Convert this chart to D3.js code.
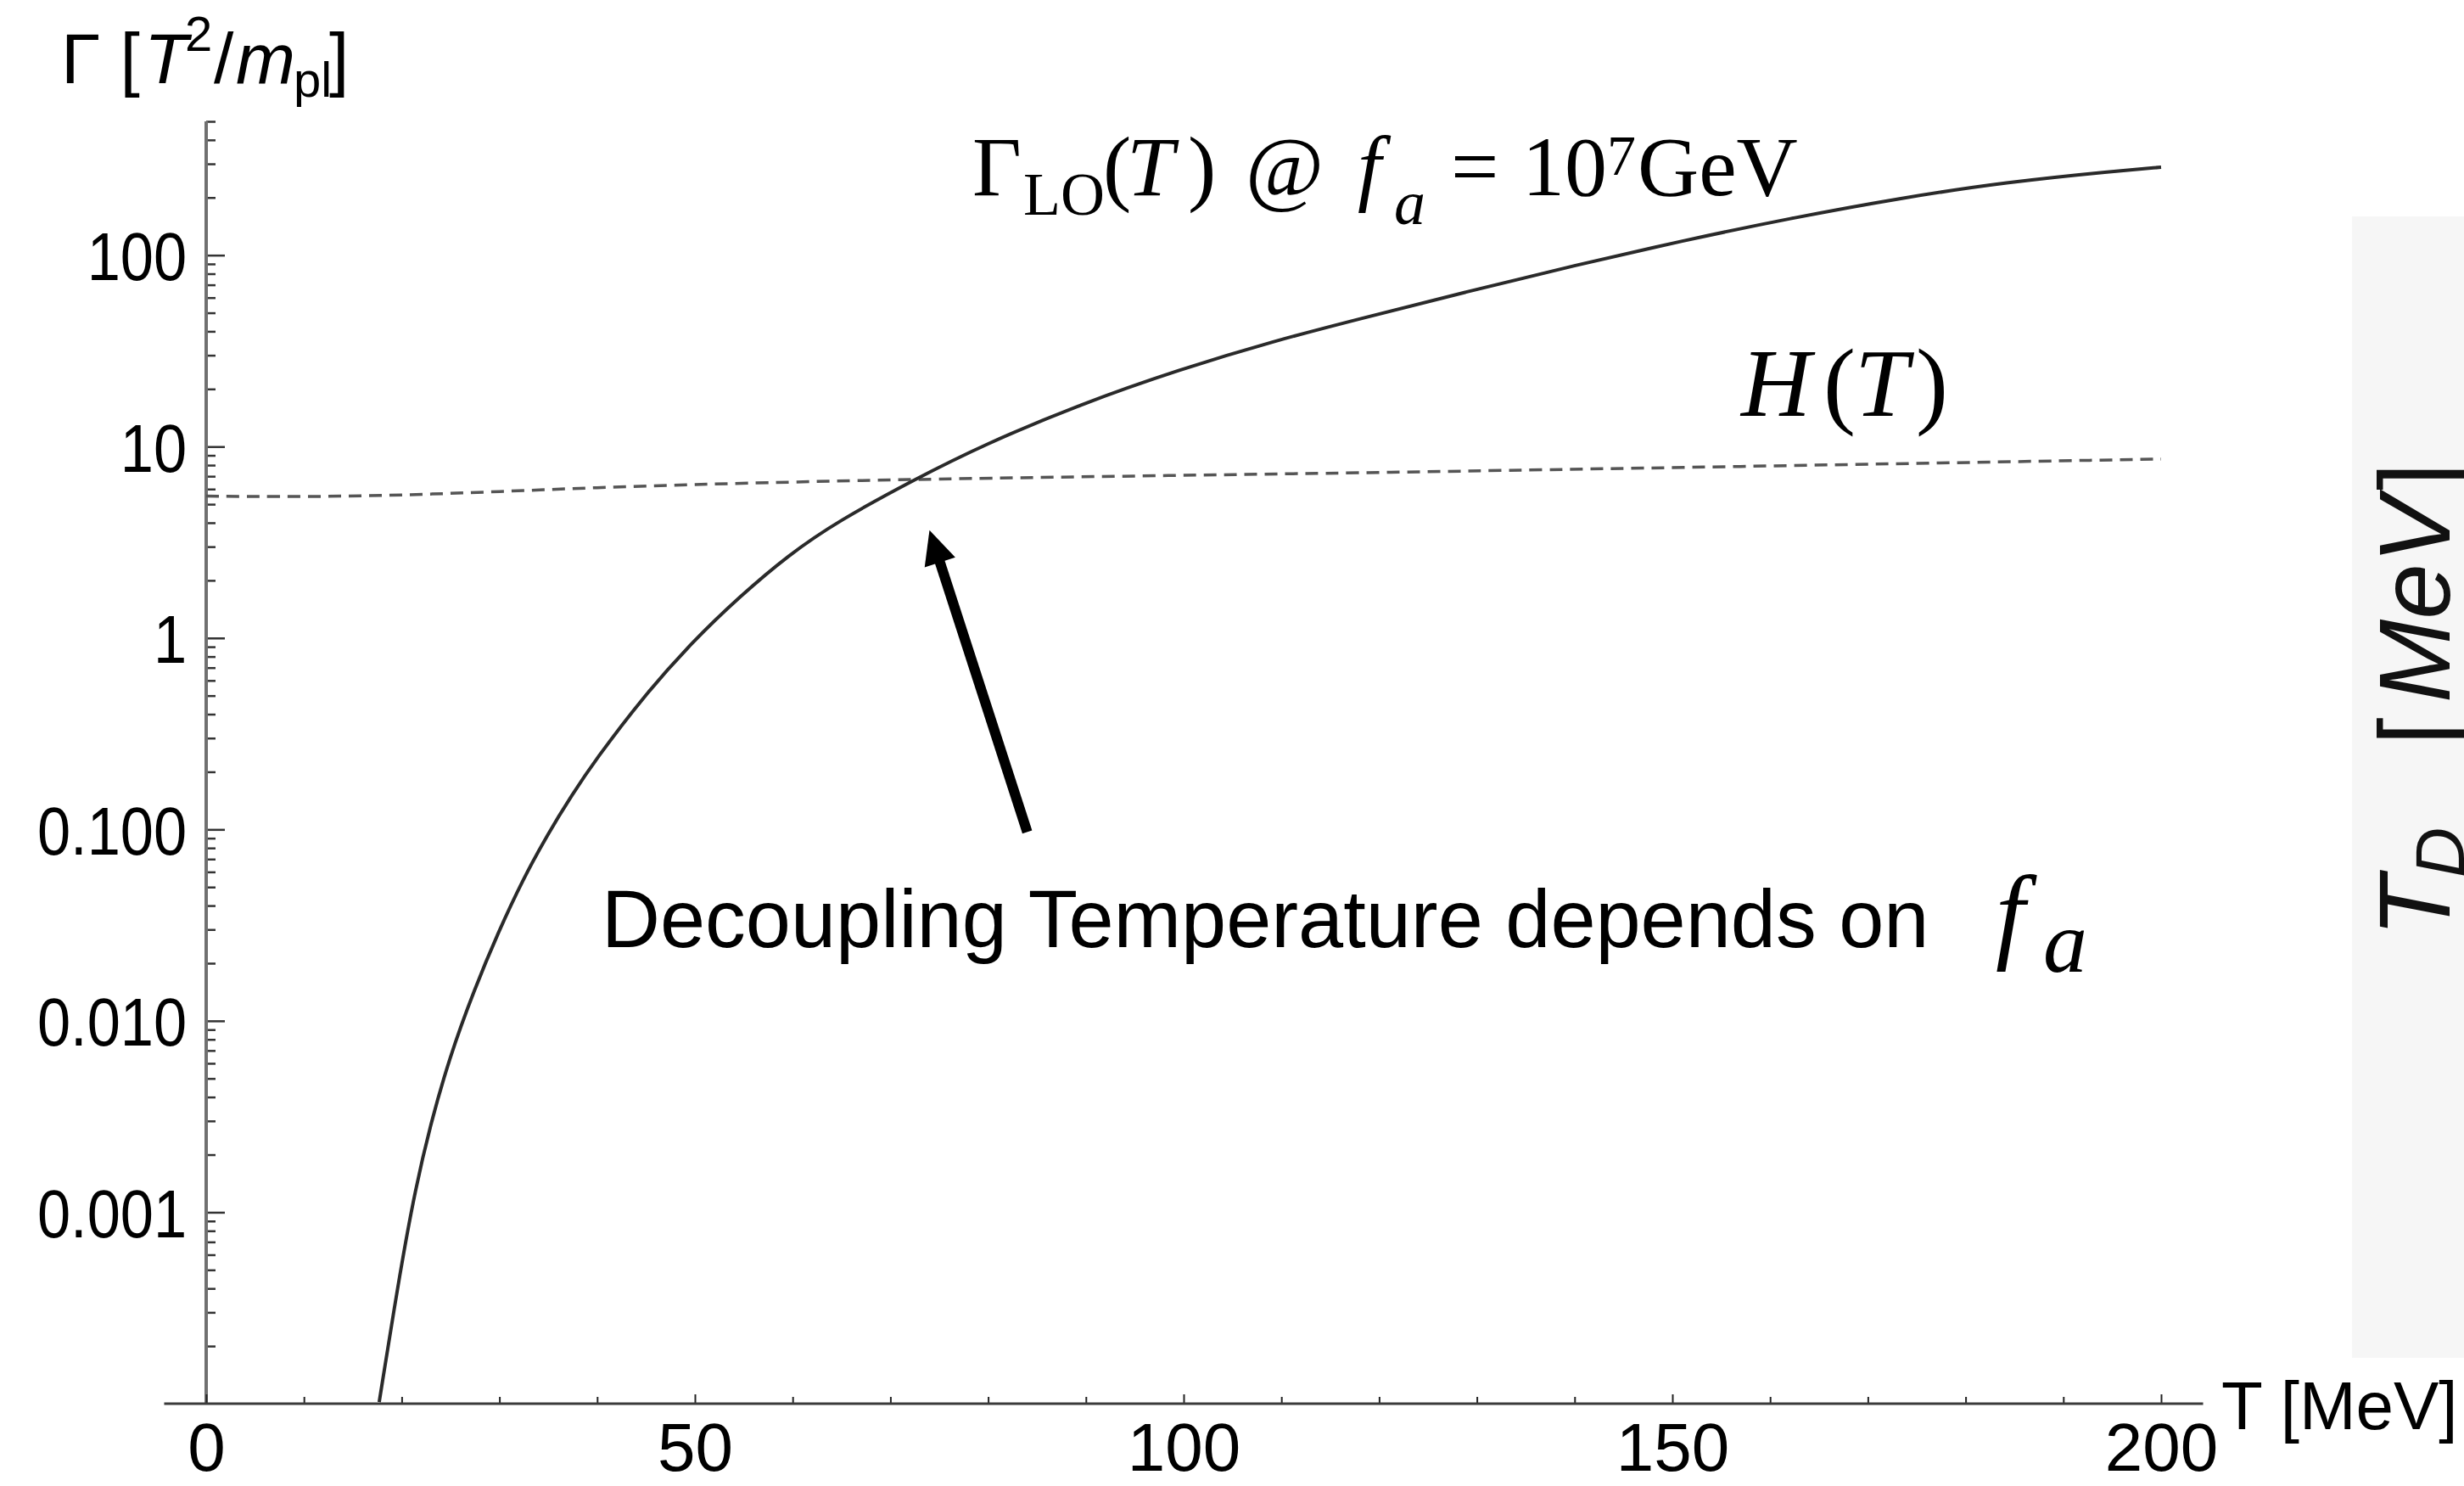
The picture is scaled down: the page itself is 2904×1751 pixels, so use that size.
<!DOCTYPE html>
<html>
<head>
    <meta charset="utf-8">
    <title>Decoupling temperature</title>
    <script src="https://cdn.jsdelivr.net/npm/d3@7"></script>
    <style>
        body { margin: 0; background: #fff; }
        .sans { font-family: "Liberation Sans", Arial, sans-serif; }
        .serif { font-family: "Liberation Serif", "Times New Roman", serif; }
    </style>
</head>

<body>

<script type="text/javascript">
    // values
    var loTemp  = [17.7, 19.9, 21.4, 22.9, 24.9, 27.4, 29.9, 32.4, 34.9, 37.4, 39.8, 44.7, 49.7,
                   54.6, 59.6, 64.6, 72.5, 79.5, 89.5, 99.5, 109.4, 117.8, 128.9, 140.0, 151.0,
                   162.1, 173.1, 184.2, 195.3, 200];
    var loRate  = [1.02e-4, 5.13e-4, 1.32e-3, 2.82e-3, 6.46e-3, 0.01445, 0.0292, 0.0547, 0.0938,
                   0.151, 0.230, 0.492, 0.951, 1.65, 2.72, 4.07, 6.75, 10.2, 16.7, 25.2, 35.8,
                   46.2, 64.3, 88.3, 118.9, 156, 198, 241, 275, 288];
    var hubTemp = [0, 10, 20, 30, 40, 50, 60, 72.6, 100, 117.8, 156, 200];
    var hubRate = [5.51, 5.46, 5.57, 5.82, 6.11, 6.34, 6.53, 6.75, 7.08, 7.29, 7.85, 8.61];

    var xTicks = [0, 50, 100, 150, 200],
        xTickLabels = ["0", "50", "100", "150", "200"],
        yTicks = [0.001, 0.01, 0.1, 1, 10, 100],
        yTickLabels = ["0.001", "0.010", "0.100", "1", "10", "100"];

    // arrow: tail -> tip, in (T, rate)
    var arrowTail = [84.0, 0.097],
        arrowTip = [74.0, 3.66];

    var width = 2904, height = 1751;

    var svg = d3.select("body").append("svg")
        .attr("width", width)
        .attr("height", height);

    var xScale = d3.scaleLinear()
            .domain([0, 200])
            .range([243, 2547]),
        yScale = d3.scaleLog()
            .domain([1e-4, 500])
            .range([1654, 143]);

    // faint panel at the right edge
    svg.append("rect")
        .attr("x", 2772).attr("y", 255)
        .attr("width", 132).attr("height", 1345)
        .attr("fill", "#f6f6f6");

    svg.append("clipPath").attr("id", "plot")
        .append("rect")
        .attr("x", xScale(-4.3)).attr("y", yScale(500))
        .attr("width", xScale(204.3) - xScale(-4.3))
        .attr("height", yScale(1e-4) - yScale(500));

    function renderYAxis() {
        var minor = [];
        [1e-4, 1e-3, 1e-2, 1e-1, 1, 10, 100].forEach(function (dec) {
            for (var k = 2; k <= 9; k++) {
                if (k * dec <= 500) minor.push(k * dec);
            }
        });

        svg.append("g")
            .attr("class", "y-minor")
            .attr("transform", "translate(" + xScale(0) + ",0)")
            .call(d3.axisLeft(yScale).tickValues(minor).tickFormat("")
                .tickSizeInner(-11).tickSizeOuter(0));

        svg.append("g")
            .attr("class", "y-major")
            .attr("transform", "translate(" + xScale(0) + ",0)")
            .call(d3.axisLeft(yScale).tickValues(yTicks)
                .tickFormat(function (d, i) { return yTickLabels[i]; })
                .tickSizeInner(-22).tickSizeOuter(0).tickPadding(26));

        svg.selectAll(".y-minor .domain, .y-major .domain").remove();
        svg.selectAll(".y-minor line, .y-major line")
            .attr("stroke", "#333").attr("stroke-width", 2.5);
        svg.selectAll(".y-major text")
            .attr("font-family", "Liberation Sans, Arial, sans-serif")
            .attr("font-size", 80)
            .attr("fill", "#000")
            .attr("dy", "0.36em")
            .attr("transform", "scale(0.88,1)");

        svg.append("line")
            .attr("x1", xScale(0)).attr("x2", xScale(0))
            .attr("y1", yScale(500)).attr("y2", yScale(1e-4))
            .attr("stroke", "#707070").attr("stroke-width", 4);
    }

    function renderXAxis() {
        var minor = [];
        for (var t = 10; t < 200; t += 10) {
            if (t % 50 !== 0) minor.push(t);
        }

        svg.append("g")
            .attr("class", "x-minor")
            .attr("transform", "translate(0," + yScale(1e-4) + ")")
            .call(d3.axisBottom(xScale).tickValues(minor).tickFormat("")
                .tickSizeInner(-8).tickSizeOuter(0));

        svg.append("g")
            .attr("class", "x-major")
            .attr("transform", "translate(0," + yScale(1e-4) + ")")
            .call(d3.axisBottom(xScale).tickValues(xTicks)
                .tickFormat(function (d, i) { return xTickLabels[i]; })
                .tickSizeInner(-11).tickSizeOuter(0).tickPadding(22));

        svg.selectAll(".x-minor .domain, .x-major .domain").remove();
        svg.selectAll(".x-minor line, .x-major line")
            .attr("stroke", "#222").attr("stroke-width", 2);
        svg.selectAll(".x-major text")
            .attr("font-family", "Liberation Sans, Arial, sans-serif")
            .attr("font-size", 80)
            .attr("fill", "#000");

        svg.append("line")
            .attr("x1", xScale(-4.3)).attr("x2", xScale(204.3))
            .attr("y1", yScale(1e-4)).attr("y2", yScale(1e-4))
            .attr("stroke", "#3a3a3a").attr("stroke-width", 3);
    }

    renderYAxis();
    renderXAxis();

    var line = d3.line()
        .x(function (d) { return xScale(d[0]); })
        .y(function (d) { return yScale(d[1]); })
        .curve(d3.curveBasis);

    svg.append("path")
        .attr("clip-path", "url(#plot)")
        .attr("d", line(d3.zip(hubTemp, hubRate)))
        .attr("fill", "none")
        .attr("stroke", "#555")
        .attr("stroke-width", 3.5)
        .attr("stroke-dasharray", "15,9");

    svg.append("path")
        .attr("clip-path", "url(#plot)")
        .attr("d", line(d3.zip(loTemp, loRate)))
        .attr("fill", "none")
        .attr("stroke", "#2a2a2a")
        .attr("stroke-width", 4);

    // arrow
    var ax0 = xScale(arrowTail[0]), ay0 = yScale(arrowTail[1]),
        ax1 = xScale(arrowTip[0]), ay1 = yScale(arrowTip[1]);
    var len = Math.sqrt((ax1 - ax0) * (ax1 - ax0) + (ay1 - ay0) * (ay1 - ay0)),
        ux = (ax1 - ax0) / len, uy = (ay1 - ay0) / len,
        headLen = 40, headHalf = 19;
    var bx = ax1 - ux * headLen, by = ay1 - uy * headLen;

    svg.append("line")
        .attr("x1", ax0).attr("y1", ay0)
        .attr("x2", bx + ux * 4).attr("y2", by + uy * 4)
        .attr("stroke", "#000").attr("stroke-width", 12);

    svg.append("path")
        .attr("d", "M" + ax1 + "," + ay1 +
            "L" + (bx - uy * headHalf) + "," + (by + ux * headHalf) +
            "L" + (bx + uy * headHalf) + "," + (by - ux * headHalf) + "Z")
        .attr("fill", "#000");

    // axis labels
    var yLab = svg.append("text").attr("class", "sans").attr("font-size", 84).attr("fill", "#000");
    yLab.append("tspan").attr("x", 72).attr("y", 98).text("Γ [");
    yLab.append("tspan").attr("x", 170).attr("y", 98).attr("font-style", "italic").text("T");
    yLab.append("tspan").attr("x", 218).attr("y", 60).attr("font-size", 58).text("2");
    yLab.append("tspan").attr("x", 252).attr("y", 98).text("/");
    yLab.append("tspan").attr("x", 278).attr("y", 98).attr("font-style", "italic").text("m");
    yLab.append("tspan").attr("x", 346).attr("y", 114).attr("font-size", 58).text("pl");
    yLab.append("tspan").attr("x", 388).attr("y", 98).text("]");

    svg.append("text").attr("class", "sans")
        .attr("x", 2618).attr("y", 1684)
        .attr("font-size", 80).attr("fill", "#000")
        .text("T [MeV]");

    // curve labels
    var g1 = svg.append("g").attr("class", "serif").attr("fill", "#000").attr("font-size", 100);
    g1.append("text").attr("x", 1146).attr("y", 230).text("Γ");
    g1.append("text").attr("x", 1206).attr("y", 253).attr("font-size", 72).text("LO");
    g1.append("text").attr("x", 1300).attr("y", 230).text("(");
    g1.append("text").attr("x", 1328).attr("y", 230).attr("font-style", "italic").text("T");
    g1.append("text").attr("x", 1400).attr("y", 230).text(")");
    g1.append("text").attr("x", 1468).attr("y", 230).text("@");
    g1.append("text").attr("x", 1600).attr("y", 230).attr("font-style", "italic").text("f");
    g1.append("text").attr("x", 1643).attr("y", 264).attr("font-size", 74).attr("font-style", "italic").text("a");
    g1.append("text").attr("x", 1710).attr("y", 230).text("=");
    g1.append("text").attr("x", 1794).attr("y", 230).text("10");
    g1.append("text").attr("x", 1894).attr("y", 206).attr("font-size", 68).text("7");
    g1.append("text").attr("x", 1930).attr("y", 230).text("GeV");

    var g2 = svg.append("g").attr("class", "serif").attr("fill", "#000").attr("font-size", 114);
    g2.append("text").attr("x", 2052).attr("y", 490).attr("font-style", "italic").text("H");
    g2.append("text").attr("x", 2149).attr("y", 490).text("(");
    g2.append("text").attr("x", 2186).attr("y", 490).attr("font-style", "italic").text("T");
    g2.append("text").attr("x", 2258).attr("y", 490).text(")");

    svg.append("text").attr("class", "sans")
        .attr("x", 709).attr("y", 1116)
        .attr("font-size", 95.5).attr("fill", "#000")
        .text("Decoupling Temperature depends on");
    svg.append("text").attr("class", "serif")
        .attr("x", 2352).attr("y", 1118)
        .attr("font-size", 124).attr("font-style", "italic").attr("fill", "#000")
        .text("f");
    svg.append("text").attr("class", "serif")
        .attr("x", 2408).attr("y", 1145)
        .attr("font-size", 104).attr("font-style", "italic").attr("fill", "#000")
        .text("a");

    // rotated, cut-off label on the right panel
    var g3 = svg.append("g").attr("class", "sans")
        .attr("transform", "translate(2887,0) rotate(-90)")
        .attr("fill", "#111").attr("font-size", 118);
    g3.append("text").attr("x", -1104).attr("y", 0).attr("font-style", "italic").text("T");
    g3.append("text").attr("x", -1034).attr("y", 17).attr("font-size", 82).attr("font-style", "italic").text("D");
    g3.append("text").attr("x", -878).attr("y", 0).text("[");
    g3.append("text").attr("x", -828).attr("y", 0).attr("font-style", "italic").text("MeV");
    g3.append("text").attr("x", -578).attr("y", 0).text("]");
</script>

</body>

</html>
